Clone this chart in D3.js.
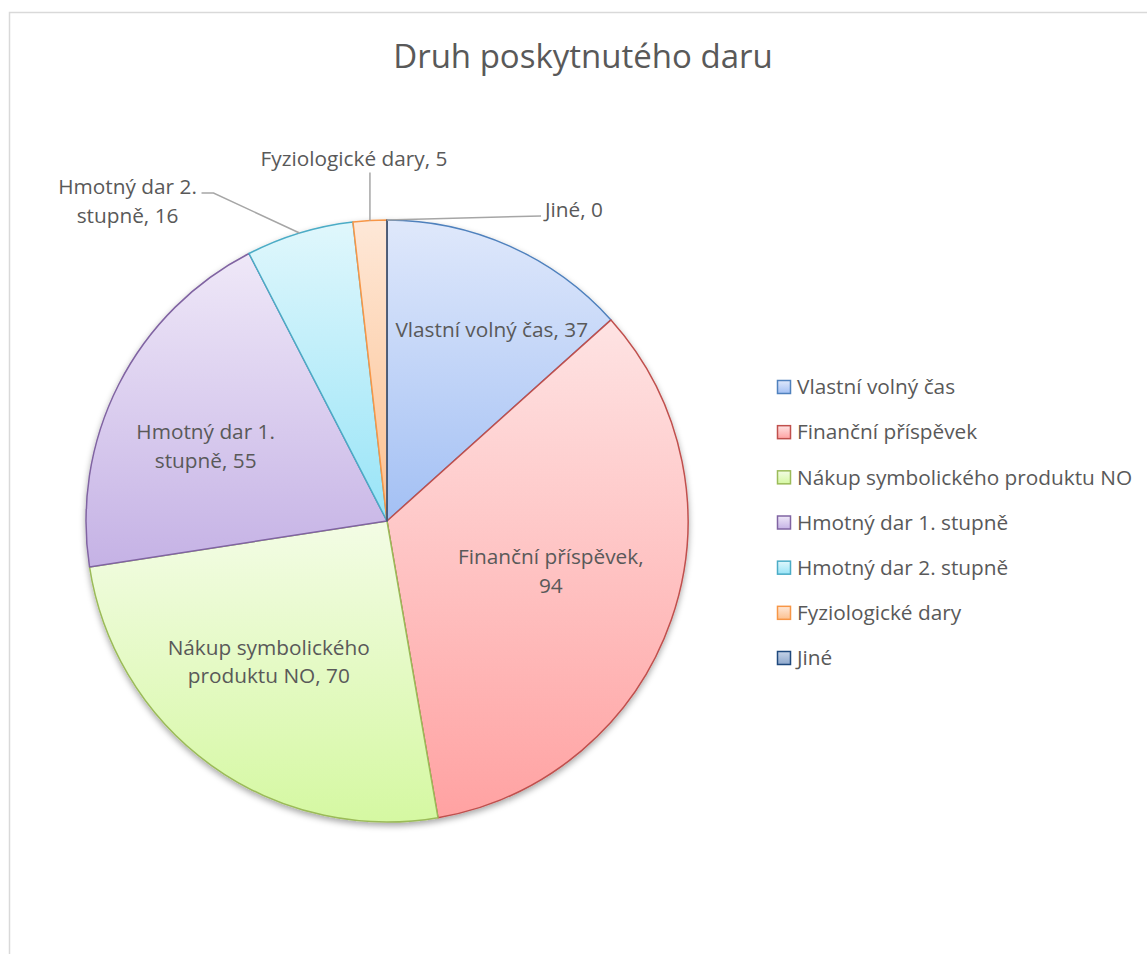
<!DOCTYPE html>
<html>
<head>
<meta charset="utf-8">
<script src="https://cdnjs.cloudflare.com/ajax/libs/d3/7.8.5/d3.min.js"></script>
<style>
  body { margin: 0; background: #fff; }
  text { font-family: "Open Sans", sans-serif; fill: #595959; }
</style>
</head>
<body>
<div id="chart"></div>
<script>
// data
var kategorie = ["Vlastní volný čas", "Finanční příspěvek", "Nákup symbolického produktu NO",
                 "Hmotný dar 1. stupně", "Hmotný dar 2. stupně", "Fyziologické dary", "Jiné"];
var hodnoty = [37, 94, 70, 55, 16, 5, 0];
// popisky (radky textu)
var popisky = [["Vlastní volný čas, 37"], ["Finanční příspěvek,", "94"], ["Nákup symbolického", "produktu NO, 70"],
               ["Hmotný dar 1.", "stupně, 55"], ["Hmotný dar 2.", "stupně, 16"], ["Fyziologické dary, 5"], ["Jiné, 0"]];

var barvy = ["#4f81bd", "#c0504d", "#9bbb59", "#8064a2", "#4bacc6", "#f79646", "#1f497d"],
    svetle = ["#dfe8fb", "#fee3e3", "#f3fce5", "#efe8f8", "#e0f7fc", "#fee8d8", "#c5d3e8"],
    tmave  = ["#a3c0f4", "#ffa2a2", "#d5f8a2", "#c5b2e5", "#98e4f7", "#fcc08e", "#8ea8cc"];

var width = 1147, height = 954,
    cx = 387, cy = 521, radius = 301;

var svg = d3.select("#chart").append("svg")
    .attr("width", width)
    .attr("height", height);

var defs = svg.append("defs");

kategorie.forEach(function(k, i) { // prechod pro kazdy dilek
  var g = defs.append("linearGradient")
      .attr("id", "grad" + i)
      .attr("x1", 0).attr("y1", 0).attr("x2", 0).attr("y2", 1);
  g.append("stop").attr("offset", "0%").attr("stop-color", svetle[i]);
  g.append("stop").attr("offset", "100%").attr("stop-color", tmave[i]);
});

var stin = defs.append("filter").attr("id", "stin")
    .attr("x", "-10%").attr("y", "-10%").attr("width", "120%").attr("height", "125%");
stin.append("feDropShadow")
    .attr("dx", 0).attr("dy", 3).attr("stdDeviation", 3)
    .attr("flood-color", "#000").attr("flood-opacity", 0.35);

// ramecek grafu
svg.append("rect")
   .attr("x", 9.5).attr("y", 12.5)
   .attr("width", width).attr("height", height)
   .attr("fill", "none")
   .attr("stroke", "#d9d9d9")
   .attr("stroke-width", 1.5);

svg.append("text")
   .attr("x", 583).attr("y", 68)
   .attr("text-anchor", "middle")
   .style("font-size", "33px")
   .text("Druh poskytnutého daru");

var pie = d3.pie().sort(null).value(d => d);
var arcs = pie(hodnoty);

var arc = d3.arc().innerRadius(0).outerRadius(radius);
var labelArc = d3.arc().innerRadius(0).outerRadius(radius * 1.3);

var g = svg.append("g")
    .attr("transform", "translate(" + cx + "," + cy + ")");

g.append("g")
 .attr("filter", "url(#stin)")
 .selectAll("path")
 .data(arcs)
 .enter().append("path")
 .attr("d", arc)
 .attr("fill", (d, i) => "url(#grad" + i + ")")
 .attr("stroke", (d, i) => barvy[i])
 .attr("stroke-width", 1.5)
 .attr("stroke-linejoin", "round");

// posuny popisku (vnitrni: od teziste, vnejsi: od okraje kruhu)
var posun = [[25, -13], [-21, -14], [-4, -18], [-7, 14], [-172, -32], [-16, -62], [158, -10]];
var vnejsi = [false, false, false, false, true, true, true];

var lh = 28.5;

popisky.forEach(function(radky, i) {
  var d = arcs[i];
  var a = (d.startAngle + d.endAngle) / 2,
      okraj = [radius * Math.sin(a), -radius * Math.cos(a)];
  var x, y;
  if (!vnejsi[i]) {
    var c = labelArc.centroid(d);
    x = c[0] + posun[i][0];
    y = c[1] + posun[i][1];
  } else {
    x = okraj[0] + posun[i][0];
    y = okraj[1] + posun[i][1];
  }
  var t = g.append("text")
      .attr("text-anchor", i == 6 ? "start" : "middle")
      .style("font-size", "20.8px");
  radky.forEach(function(r, j) {
    t.append("tspan")
     .attr("x", x)
     .attr("y", y - (radky.length - 1) * lh / 2 + j * lh)
     .attr("dy", "0.35em")
     .text(r);
  });

  if (vnejsi[i]) { // vodici cary
    var body;
    if (i == 4) body = [[x + 74, y - 8], [x + 86, y - 8], okraj];
    else if (i == 5) body = [[okraj[0], y + 14], okraj];
    else body = [[x - 4, y + 6], okraj];
    g.append("path")
     .attr("d", d3.line()(body))
     .attr("fill", "none")
     .attr("stroke", "#a6a6a6")
     .attr("stroke-width", 1.5);
  }
});

// legenda
var ly = d3.scalePoint().domain(kategorie).range([387, 658]);

var legend = svg.append("g").selectAll("g")
    .data(kategorie)
    .enter().append("g")
    .attr("transform", d => "translate(777," + ly(d) + ")");

legend.append("rect")
      .attr("x", 0.5).attr("y", -6.5)
      .attr("width", 13).attr("height", 13)
      .attr("fill", (d, i) => "url(#grad" + i + ")")
      .attr("stroke", (d, i) => barvy[i])
      .attr("stroke-width", 1.5);

legend.append("text")
      .attr("x", 20)
      .attr("dy", "0.35em")
      .style("font-size", "20.8px")
      .text(d => d);
</script>
</body>
</html>
